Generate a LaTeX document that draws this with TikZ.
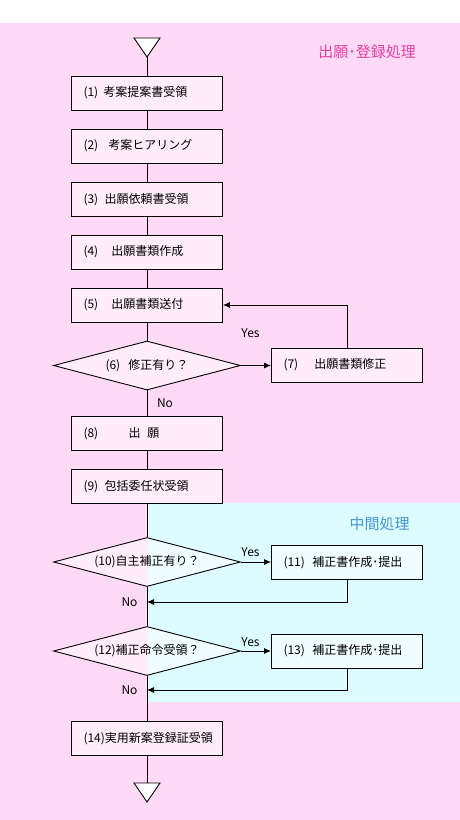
\documentclass[tikz,border=0pt]{standalone}
\usepackage{fontspec}
\newfontfamily\jp{Noto Sans CJK JP}
\usetikzlibrary{shapes.geometric,arrows.meta}
\definecolor{bgpink}{RGB}{255,218,246}
\definecolor{bgcyan}{RGB}{221,252,255}
\definecolor{ttlpink}{RGB}{226,64,160}
\definecolor{ttlblue}{RGB}{70,150,210}
\begin{document}
\begin{tikzpicture}[x=1pt,y=-1pt,
  every node/.style={font=\jp\fontsize{12}{14}\selectfont},
  box/.style={draw=black,line width=0.9pt,fill=white,fill opacity=0.55,text opacity=1,
    minimum width=151,minimum height=34,text width=127,inner xsep=12,inner ysep=0,align=left},
  dia/.style={draw=black,diamond,aspect=3.8,line width=0.9pt,fill=white,fill opacity=0.55,text opacity=1,
    minimum width=187,minimum height=49,inner sep=0,align=center},
  conn/.style={line width=0.9pt},
  arr/.style={conn,-{Latex[length=7pt,width=6pt]}},
  lbl/.style={inner sep=0},
  ttl/.style={inner sep=0,font=\jp\fontsize{15}{17}\selectfont}]
\fill[white] (0,0) rectangle (460,820);
\fill[bgpink] (0,23) rectangle (460,820);
\fill[bgcyan] (148,503) rectangle (460,702);
\useasboundingbox (0,0) rectangle (460,820);

\node[ttl,text=ttlpink] (ta) at (367,52) {出願･登録処理};
\node[ttl,text=ttlblue] (tb) at (379.5,524) {中間処理};

\draw[conn,fill=white] (134,38) -- (160,38) -- (147,57) -- cycle;
\coordinate (t1) at (147,57);

\node[box] (b1) at (147,93) {\makebox[20pt][l]{(1)}考案提案書受領};
\node[box] (b2) at (147,146) {\makebox[25pt][l]{(2)}考案ヒアリング};
\node[box] (b3) at (147,199.5) {\makebox[21pt][l]{(3)}出願依頼書受領};
\node[box] (b4) at (147,252) {\makebox[28pt][l]{(4)}出願書類作成};
\node[box] (b5) at (147,305) {\makebox[28pt][l]{(5)}出願書類送付};
\node[dia] (d6) at (147,365.5) {\makebox[23pt][l]{(6)}修正有り？};
\node[box] (b7) at (347,365) {\makebox[31pt][l]{(7)}出願書類修正};
\node[box] (b8) at (147,433.5) {\makebox[45pt][l]{(8)}出\hspace{7pt}願};
\node[box] (b9) at (147,486.5) {\makebox[21pt][l]{(9)}包括委任状受領};
\node[dia] (d10) at (147,562) {(10)自主補正有り？};
\node[box] (b11) at (347,562.5) {\makebox[29pt][l]{(11)}補正書作成･提出};
\node[dia] (d12) at (147,651) {(12)補正命令受領？};
\node[box] (b13) at (347,651) {\makebox[29pt][l]{(13)}補正書作成･提出};
\node[box] (b14) at (147,738.5) {(14)実用新案登録証受領};

\draw[conn,fill=white] (134,783) -- (160,783) -- (147,802) -- cycle;
\coordinate (t2) at (147,783);
\coordinate (r11) at (147,602);
\coordinate (r13) at (147,690);

\draw[conn] (t1) -- (b1.north);
\draw[conn] (b1) -- (b2);
\draw[conn] (b2) -- (b3);
\draw[conn] (b3) -- (b4);
\draw[conn] (b4) -- (b5);
\draw[conn] (b5) -- (d6);
\draw[conn] (d6) -- (b8);
\draw[conn] (b8) -- (b9);
\draw[conn] (b9) -- (d10);
\draw[conn] (d10) -- (d12);
\draw[conn] (d12) -- (b14);
\draw[conn] (b14.south) -- (t2);

\draw[arr] (d6.east) -- (d6.east -| b7.west);
\draw[arr] (b7.north) |- (b5.east);
\draw[arr] (d10.east) -- (d10.east -| b11.west);
\draw[arr] (b11.south) |- (r11);
\draw[arr] (d12.east) -- (d12.east -| b13.west);
\draw[arr] (b13.south) |- (r13);

\node[lbl] (y6) at (250.5,333) {Yes};
\node[lbl] (n6) at (165,403) {No};
\node[lbl] (y10) at (250.5,552) {Yes};
\node[lbl] (n10) at (129.5,602) {No};
\node[lbl] (y12) at (250.5,642) {Yes};
\node[lbl] (n12) at (129.5,690) {No};
\end{tikzpicture}
\end{document}
